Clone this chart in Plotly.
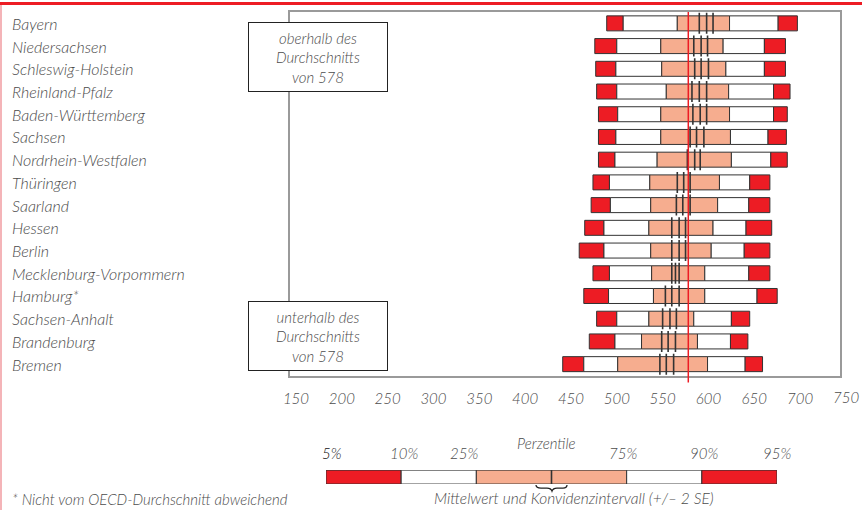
import plotly.graph_objects as go

# ---------------- data ----------------
states = ["Bayern", "Niedersachsen", "Schleswig-Holstein", "Rheinland-Pfalz",
          "Baden-Württemberg", "Sachsen", "Nordrhein-Westfalen", "Thüringen",
          "Saarland", "Hessen", "Berlin", "Mecklenburg-Vorpommern", "Hamburg*",
          "Sachsen-Anhalt", "Brandenburg", "Bremen"]
p5 = [489, 476, 477, 478, 480, 480, 480, 474, 472, 465, 459, 474, 464, 478, 470, 441]
p10 = [507, 500, 499, 500, 501, 499, 498, 492, 493, 486, 486, 492, 491, 500, 498, 464]
p25 = [566, 548, 549, 554, 548, 548, 544, 536, 537, 535, 537, 538, 540, 535, 527, 501]
ci_lo = [590, 584, 585, 582, 583, 580, 577, 566, 565, 560, 560, 560, 553, 550, 549, 547]
mean = [598, 592, 592, 590, 591, 587, 585, 573, 572, 568, 568, 564, 560, 558, 556, 554]
ci_hi = [605, 599, 600, 598, 598, 595, 591, 580, 580, 575, 575, 568, 568, 565, 564, 562]
p75 = [623, 616, 619, 622, 623, 624, 625, 612, 610, 605, 603, 596, 596, 584, 588, 599]
p90 = [676, 661, 661, 671, 671, 665, 668, 645, 644, 641, 639, 644, 653, 625, 624, 640]
p95 = [697, 684, 684, 689, 686, 685, 686, 667, 667, 669, 667, 667, 675, 645, 643, 659]
oecd_avg = 578
tick_vals = list(range(150, 751, 50))

legend_labels = ["5%", "10%", "25%", "75%", "90%", "95%"]
legend_edges = [0, 1, 2, 4, 5, 6]   # schematic percentile key
legend_mid = 3

# ---------------- style ----------------
RED = "#ED1C24"
SALMON = "#F6AD8F"
WHITE = "#FFFFFF"
OUTLINE = "#333333"
TXT = "#4c4c4c"
FONT = "Lato"
seg_colors = [RED, WHITE, SALMON, WHITE, RED]

# layout geometry (pixels)
W, H = 862, 510
ML, MR, MT, MB = 290, 22, 10, 10
PW = W - ML - MR
PH = H - MT - MB
MAIN_BOTTOM = 375
X_RANGE = [143.5, 743.5]


def px(x):
    return (x - ML) / PW


def py(y):
    return (H - MB - y) / PH


def xfrac(v):
    return (v - X_RANGE[0]) / (X_RANGE[1] - X_RANGE[0])


def it(s):
    return f"<i>{s}</i>"


def tfont(size, color=TXT):
    return dict(family=FONT, size=size, color=color, style="italic", weight=300)


fig = go.Figure()

# main percentile bars
bounds = [p5, p10, p25, p75, p90, p95]
for i in range(5):
    lo, hi = bounds[i], bounds[i + 1]
    fig.add_trace(go.Bar(
        y=states, base=lo, x=[h - l for l, h in zip(lo, hi)],
        orientation="h", width=0.66,
        marker=dict(color=seg_colors[i], line=dict(color=OUTLINE, width=1)),
        showlegend=False, hoverinfo="skip", xaxis="x", yaxis="y"))

# mean and confidence interval marks
for vals in (ci_lo, mean, ci_hi):
    fig.add_trace(go.Scatter(
        x=vals, y=states, mode="markers",
        marker=dict(symbol="line-ns", size=15, color=OUTLINE,
                    line=dict(color=OUTLINE, width=1.6)),
        showlegend=False, hoverinfo="skip", xaxis="x", yaxis="y"))

# legend key bar (second subplot)
for i in range(5):
    fig.add_trace(go.Bar(
        y=[0], base=[legend_edges[i]], x=[legend_edges[i + 1] - legend_edges[i]],
        orientation="h", width=1,
        marker=dict(color=seg_colors[i], line=dict(color=OUTLINE, width=1)),
        showlegend=False, hoverinfo="skip", xaxis="x2", yaxis="y2"))
fig.add_trace(go.Scatter(
    x=[legend_mid], y=[0], mode="markers",
    marker=dict(symbol="line-ns", size=14, color=OUTLINE,
                line=dict(color=OUTLINE, width=1.6)),
    showlegend=False, hoverinfo="skip", xaxis="x2", yaxis="y2"))

ann = []
# category labels (left aligned)
for s in states:
    ann.append(dict(x=px(10), xref="paper", y=s, yref="y", text=it(s),
                    xanchor="left", yanchor="middle", showarrow=False,
                    font=tfont(16)))

# tick labels beyond the frame (750 lies outside the plotted range)
for v in tick_vals:
    if v > X_RANGE[1]:
        ann.append(dict(x=xfrac(v), xref="paper", y=py(397), yref="paper",
                        text=it(str(v)), showarrow=False, xanchor="center",
                        yanchor="middle", font=tfont(15)))

# boxes with text
for txt, cy in (("oberhalb des<br>Durchschnitts<br>von 578", 55),
                ("unterhalb des<br>Durchschnitts<br>von 578", 335)):
    ann.append(dict(x=px(318), y=py(cy), xref="paper", yref="paper", text=it(txt),
                    showarrow=False, xanchor="center", yanchor="middle",
                    width=136, height=66, bgcolor="white", bordercolor="#222",
                    borderwidth=1, borderpad=1, align="center",
                    font=tfont(15)))

# legend labels
shifts = [6, 3, -12, -4, 2, 0]
for lab, e, sh in zip(legend_labels, legend_edges, shifts):
    ann.append(dict(x=e, xref="x2", y=py(453), yref="paper", text=it(lab),
                    showarrow=False, xanchor="center", yanchor="middle", xshift=sh,
                    font=tfont(15, "#111" if lab == "5%" else TXT)))
ann.append(dict(x=2.94, xref="x2", y=py(443), yref="paper", text=it("Perzentile"),
                showarrow=False, xanchor="center", yanchor="middle",
                font=tfont(15)))
ann.append(dict(x=px(574), xref="paper", y=py(498), yref="paper",
                text=it("Mittelwert und Konvidenzintervall (+/– 2 SE)"),
                showarrow=False, xanchor="center", yanchor="middle",
                font=tfont(15.5)))
ann.append(dict(x=px(10), xref="paper", y=py(499), yref="paper",
                text=it("* Nicht vom OECD-Durchschnitt abweichend"),
                showarrow=False, xanchor="left", yanchor="middle",
                font=tfont(15)))

# brace under the mean mark of the key
bpts = [(536, 485), (536, 488), (541, 488), (547, 488), (551, 488), (552, 491),
        (553, 488), (557, 488), (563, 488), (567, 488), (567, 485)]
P = [(px(x), py(y)) for x, y in bpts]
brace = (f"M {P[0][0]},{P[0][1]} Q {P[1][0]},{P[1][1]} {P[2][0]},{P[2][1]} "
         f"L {P[3][0]},{P[3][1]} Q {P[4][0]},{P[4][1]} {P[5][0]},{P[5][1]} "
         f"Q {P[6][0]},{P[6][1]} {P[7][0]},{P[7][1]} L {P[8][0]},{P[8][1]} "
         f"Q {P[9][0]},{P[9][1]} {P[10][0]},{P[10][1]}")

shapes = [
    # OECD average line
    dict(type="line", xref="x", x0=oecd_avg, x1=oecd_avg, yref="paper",
         y0=py(382), y1=py(10), line=dict(color=RED, width=1.5), layer="above"),
    # top red border
    dict(type="line", xref="paper", x0=px(0), x1=px(W), yref="paper",
         y0=py(1.5), y1=py(1.5), line=dict(color=RED, width=3)),
    # left pink border
    dict(type="line", xref="paper", x0=px(1), x1=px(1), yref="paper",
         y0=py(3), y1=py(H), line=dict(color="#F4B4B8", width=2)),
    dict(type="path", xref="paper", yref="paper", path=brace,
         line=dict(color="#222", width=1.3)),
]

tv_in = [v for v in tick_vals if X_RANGE[0] <= v <= X_RANGE[1]]
main_dom = [py(MAIN_BOTTOM), 1]
fig.update_layout(
    width=W, height=H, margin=dict(l=ML, r=MR, t=MT, b=MB),
    paper_bgcolor="white", plot_bgcolor="white", barmode="overlay",
    showlegend=False, annotations=ann, shapes=shapes,
    xaxis=dict(range=X_RANGE, tickvals=tv_in,
               ticktext=[it(str(v)) for v in tv_in], ticks="", showgrid=False,
               zeroline=False, showline=True, mirror=True, linecolor="#9a9a9a",
               linewidth=2, ticklabelstandoff=8,
               tickfont=tfont(15),
               anchor="y", domain=[0, 1]),
    yaxis=dict(type="category", categoryorder="array", categoryarray=states,
               range=[15.5, -0.5], showticklabels=False, ticks="", showgrid=False,
               zeroline=False, showline=True, mirror=True, linecolor="#9a9a9a",
               linewidth=2, domain=main_dom, anchor="x"),
    xaxis2=dict(range=[0, 6], visible=False, domain=[px(326), px(777)], anchor="y2"),
    yaxis2=dict(range=[-0.5, 0.5], visible=False, domain=[py(484), py(470)], anchor="x2"),
)

fig.write_html("out.html", config={"displayModeBar": False},
               post_script="document.body.style.margin='0';document.body.style.overflow='hidden';")
